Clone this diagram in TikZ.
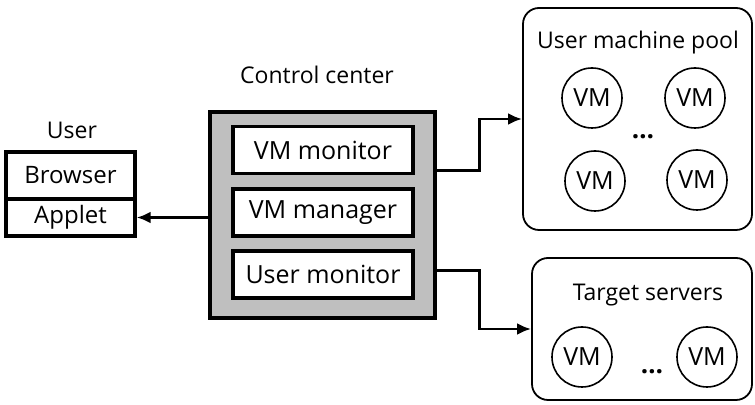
\documentclass[tikz,border=0pt]{standalone}
\usepackage{fontspec}
\setmainfont{Open Sans}
\usetikzlibrary{arrows.meta, calc}

\begin{document}
\begin{tikzpicture}[x=0.5pt, y=0.5pt, >={Latex[length=7pt, width=6pt]},
    font=\fontsize{11.5}{14}\selectfont,
    module/.style={draw, line width=1.7pt, fill=white, minimum width=90pt, minimum height=23.5pt, inner sep=0pt, font=\fontsize{12.5}{14}\selectfont},
    userpart/.style={draw, line width=1.7pt, minimum width=64.5pt, inner sep=0pt, font=\fontsize{12}{14}\selectfont},
    group/.style={draw, line width=0.9pt, rounded corners=8pt},
    vm/.style={draw, circle, line width=0.8pt, minimum size=30pt, inner sep=0pt, font=\fontsize{12.5}{14}\selectfont},
    more/.style={inner sep=0pt, font=\fontsize{13}{14}\selectfont\bfseries},
    conn/.style={->, line width=1.4pt}
]
\useasboundingbox (0,0) rectangle (755,405);

% User side
\node at (72,275) {User};
\node[userpart, minimum height=23.5pt] (browser) at (70.5,229.5) {Browser};
\node[userpart, minimum height=18.5pt] (applet) at (70.5,187.5) {Applet};

% Control center with its modules
\node at (317,330) {Control center};
\node[draw, line width=1.7pt, fill=black!25, minimum width=112.5pt, minimum height=103pt] (cc) at (322.5,190) {};
\node[module] (vmmon) at (323,255) {VM monitor};
\node[module] (vmman) at (323,192.5) {VM manager};
\node[module] (usrmon) at (323,130.5) {User monitor};

% User machine pool
\node[group, minimum width=114.5pt, minimum height=111pt] (pool) at (637.5,286) {};
\node at (638,362) {User machine pool};
\node[vm] (vm1) at (592,307) {VM};
\node[vm] (vm2) at (695,307) {VM};
\node[vm] (vm3) at (595,224) {VM};
\node[vm] (vm4) at (697,225) {VM};
\node[more] (pooldots) at (643,268) {\dots};

% Target servers
\node[group, minimum width=110pt, minimum height=71pt] (target) at (642,76) {};
\node at (648,110) {Target servers};
\node[vm] (tvm1) at (582,48) {VM};
\node[vm] (tvm2) at (707,48) {VM};
\node[more] (tdots) at (652,33) {\dots};

% Connectors
\draw[conn] (applet.east -| cc.west) -- (applet.east);
\draw[conn] ($(cc.east |- vmmon.south)+(0,5)$) -- ++(43,0) |- (pool.west);
\draw[conn] ($(cc.east |- usrmon)+(0,4)$) -- ++(43,0) |- (target.west);

\end{tikzpicture}
\end{document}
